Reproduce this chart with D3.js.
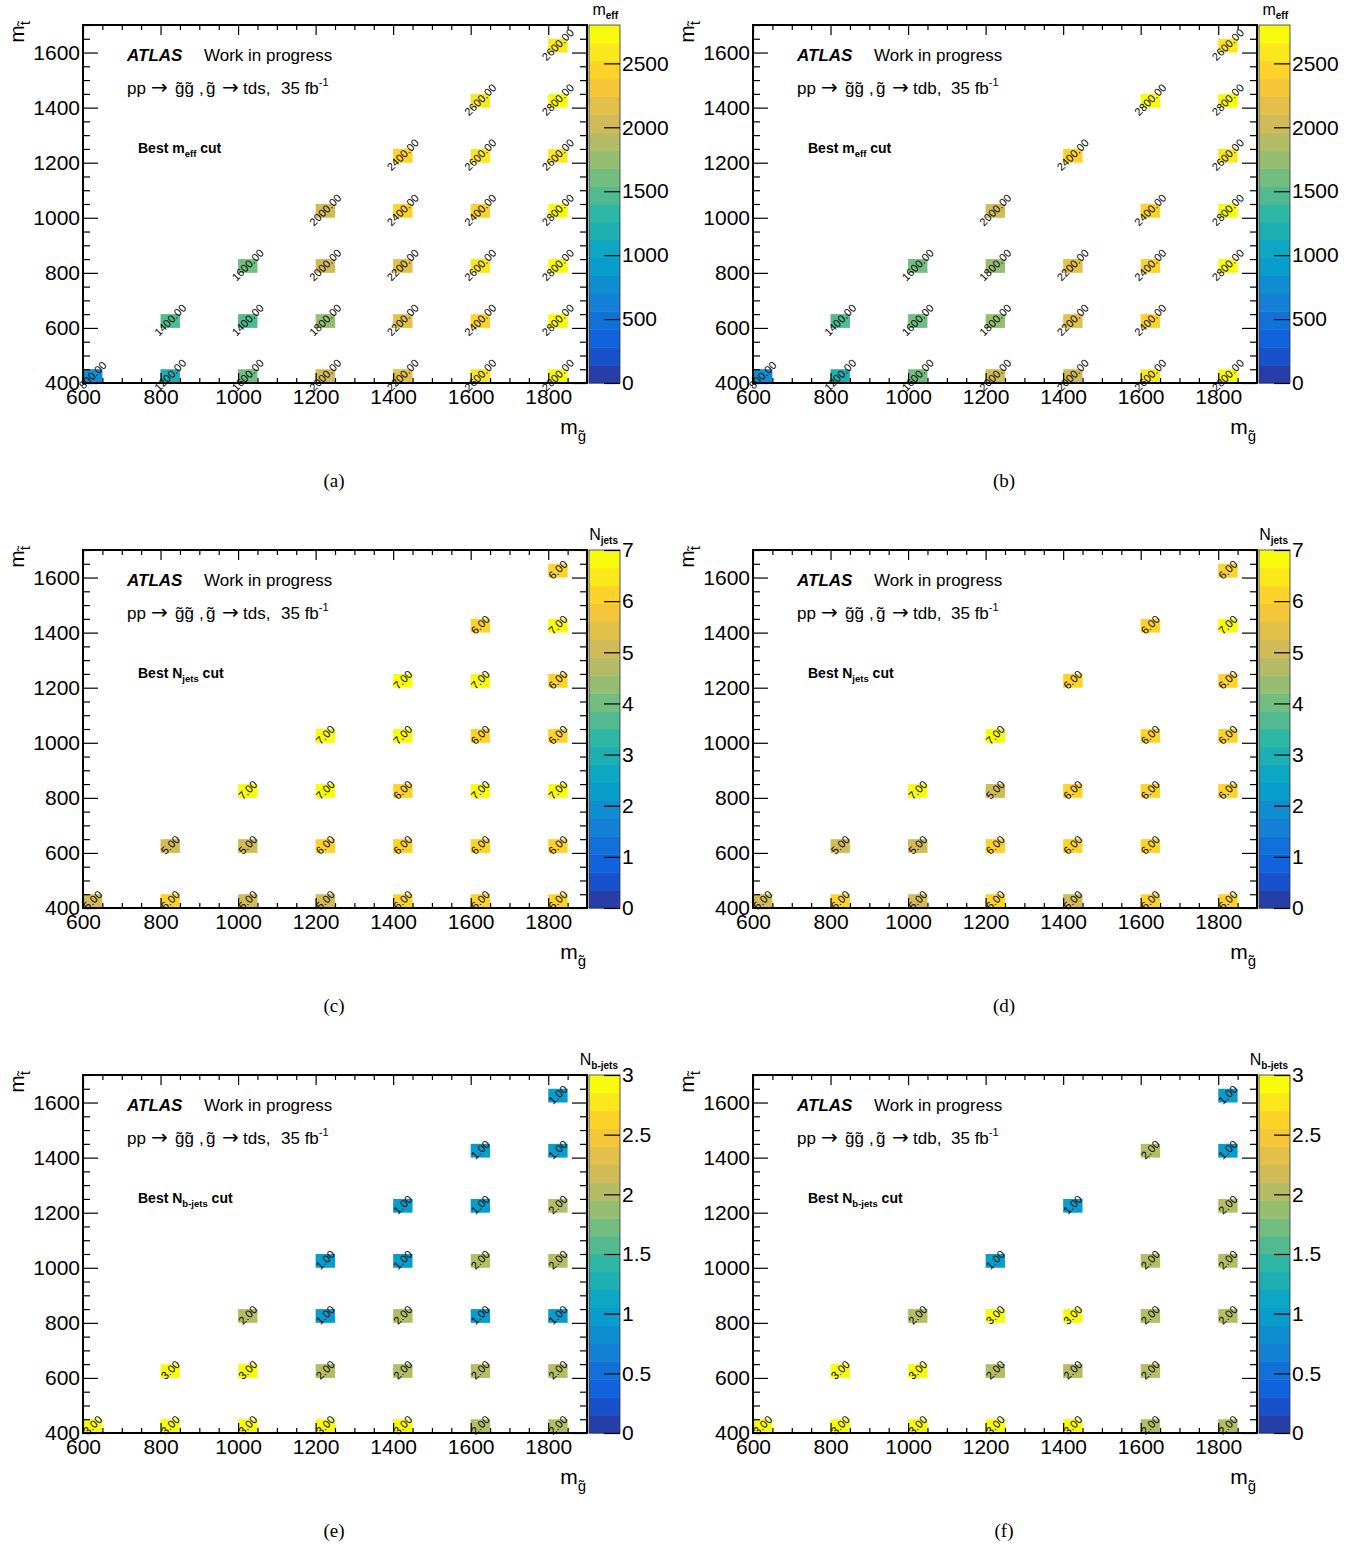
<!DOCTYPE html>
<html><head><meta charset="utf-8">
<script src="https://cdn.jsdelivr.net/npm/d3@7"></script>
<style>
body{margin:0;background:#fff}
svg{display:block}
text{font-family:"Liberation Sans",Arial,Helvetica,sans-serif;white-space:pre}
</style>
</head><body>
<svg id="c" width="1366" height="1546"></svg>
<script>
// ---------------- DATA ----------------
const gluinoTicks = [600, 800, 1000, 1200, 1400, 1600, 1800];
const stopTicks = [400, 600, 800, 1000, 1200, 1400, 1600];
const meffTicks = [0, 500, 1000, 1500, 2000, 2500];
const njetsTicks = [0, 1, 2, 3, 4, 5, 6, 7];
const nbjetsTicks = [0, 0.5, 1, 1.5, 2, 2.5, 3];

// [m_gluino, m_stop, value]
const meffTds = [
  [600,400,800],
  [800,400,1200],[800,600,1400],
  [1000,400,1600],[1000,600,1400],[1000,800,1600],
  [1200,400,2000],[1200,600,1800],[1200,800,2000],[1200,1000,2000],
  [1400,400,2200],[1400,600,2200],[1400,800,2200],[1400,1000,2400],[1400,1200,2400],
  [1600,400,2600],[1600,600,2400],[1600,800,2600],[1600,1000,2400],[1600,1200,2600],[1600,1400,2600],
  [1800,400,2800],[1800,600,2800],[1800,800,2800],[1800,1000,2800],[1800,1200,2600],[1800,1400,2800],[1800,1600,2600]
];
const meffTdb = [
  [600,400,800],
  [800,400,1200],[800,600,1400],
  [1000,400,1600],[1000,600,1600],[1000,800,1600],
  [1200,400,2000],[1200,600,1800],[1200,800,1800],[1200,1000,2000],
  [1400,400,2000],[1400,600,2200],[1400,800,2200],[1400,1200,2400],
  [1600,400,2600],[1600,600,2400],[1600,800,2400],[1600,1000,2400],[1600,1400,2800],
  [1800,400,2800],[1800,800,2800],[1800,1000,2800],[1800,1200,2600],[1800,1400,2800],[1800,1600,2600]
];
const njetsTds = [
  [600,400,5],
  [800,400,6],[800,600,5],
  [1000,400,5],[1000,600,5],[1000,800,7],
  [1200,400,5],[1200,600,6],[1200,800,7],[1200,1000,7],
  [1400,400,6],[1400,600,6],[1400,800,6],[1400,1000,7],[1400,1200,7],
  [1600,400,6],[1600,600,6],[1600,800,7],[1600,1000,6],[1600,1200,7],[1600,1400,6],
  [1800,400,6],[1800,600,6],[1800,800,7],[1800,1000,6],[1800,1200,6],[1800,1400,7],[1800,1600,6]
];
const njetsTdb = [
  [600,400,5],
  [800,400,6],[800,600,5],
  [1000,400,5],[1000,600,5],[1000,800,7],
  [1200,400,6],[1200,600,6],[1200,800,5],[1200,1000,7],
  [1400,400,5],[1400,600,6],[1400,800,6],[1400,1200,6],
  [1600,400,6],[1600,600,6],[1600,800,6],[1600,1000,6],[1600,1400,6],
  [1800,400,6],[1800,800,6],[1800,1000,6],[1800,1200,6],[1800,1400,7],[1800,1600,6]
];
const nbjetsTds = [
  [600,400,3],
  [800,400,3],[800,600,3],
  [1000,400,3],[1000,600,3],[1000,800,2],
  [1200,400,3],[1200,600,2],[1200,800,1],[1200,1000,1],
  [1400,400,3],[1400,600,2],[1400,800,2],[1400,1000,1],[1400,1200,1],
  [1600,400,2],[1600,600,2],[1600,800,1],[1600,1000,2],[1600,1200,1],[1600,1400,1],
  [1800,400,2],[1800,600,2],[1800,800,1],[1800,1000,2],[1800,1200,2],[1800,1400,1],[1800,1600,1]
];
const nbjetsTdb = [
  [600,400,3],
  [800,400,3],[800,600,3],
  [1000,400,3],[1000,600,3],[1000,800,2],
  [1200,400,3],[1200,600,2],[1200,800,3],[1200,1000,1],
  [1400,400,3],[1400,600,2],[1400,800,3],[1400,1200,1],
  [1600,400,2],[1600,600,2],[1600,800,2],[1600,1000,2],[1600,1400,2],
  [1800,400,2],[1800,800,2],[1800,1000,2],[1800,1200,2],[1800,1400,1],[1800,1600,1]
];
const binWidth = 50;

// ---------------- PANELS ----------------
const panels = [
  {cap:"(a)", col:0, row:0, cells:meffTds,   decay:"tds", zmax:2800, zTicks:meffTicks,   vMain:"m", vSub:"eff"},
  {cap:"(b)", col:1, row:0, cells:meffTdb,   decay:"tdb", zmax:2800, zTicks:meffTicks,   vMain:"m", vSub:"eff"},
  {cap:"(c)", col:0, row:1, cells:njetsTds,  decay:"tds", zmax:7,    zTicks:njetsTicks,  vMain:"N", vSub:"jets"},
  {cap:"(d)", col:1, row:1, cells:njetsTdb,  decay:"tdb", zmax:7,    zTicks:njetsTicks,  vMain:"N", vSub:"jets"},
  {cap:"(e)", col:0, row:2, cells:nbjetsTds, decay:"tds", zmax:3,    zTicks:nbjetsTicks, vMain:"N", vSub:"b-jets"},
  {cap:"(f)", col:1, row:2, cells:nbjetsTdb, decay:"tdb", zmax:3,    zTicks:nbjetsTicks, vMain:"N", vSub:"b-jets"}
];

// ---------------- STYLE / LAYOUT ----------------
const colOff = [0, 670], rowOff = [0, 525, 1050];
const F = {l:83, r:587, t:25, b:383};
const CB = {l:589, r:620};
const NCONT = 20;
const ARROW_FONT = "'DejaVu Sans',sans-serif";

// ROOT kBird palette
const birdStops = [0, .125, .25, .375, .5, .625, .75, .875, 1];
const birdR = [0.2082, 0.0592, 0.0780, 0.0232, 0.1802, 0.5301, 0.8186, 0.9956, 0.9764];
const birdG = [0.1664, 0.3599, 0.5041, 0.6419, 0.7178, 0.7492, 0.7328, 0.7862, 0.9832];
const birdB = [0.5293, 0.8684, 0.8385, 0.7914, 0.6425, 0.4662, 0.3499, 0.1968, 0.0539];
const bird = d3.scaleLinear().domain(birdStops)
  .range(birdStops.map((s,i)=>d3.rgb(birdR[i]*255, birdG[i]*255, birdB[i]*255)))
  .interpolate(d3.interpolateRgb);
function bandColor(band){
  const idx = Math.floor((band + 0.99) * 255 / NCONT);
  return bird(Math.min(254, idx) / 254);
}
function valueBand(v, zmax){
  return Math.max(0, Math.min(NCONT - 1, Math.floor(v / (zmax / NCONT) + 1e-9)));
}

const svg = d3.select("#c");
svg.append("rect").attr("width",1366).attr("height",1546).attr("fill","#fff");

const TIL = "\u0303";

panels.forEach(p => {
  const g = svg.append("g").attr("transform", `translate(${colOff[p.col]},${rowOff[p.row]})`);
  const xs = d3.scaleLinear().domain([600, 1900]).range([F.l, F.r]);
  const ys = d3.scaleLinear().domain([400, 1700]).range([F.b, F.t]);
  const cs = d3.scaleLinear().domain([0, p.zmax]).range([F.b, F.t]);

  // cells
  g.append("g").selectAll("rect").data(p.cells).join("rect")
    .attr("x", d => xs(d[0]))
    .attr("y", d => ys(d[1] + binWidth))
    .attr("width", d => xs(d[0] + binWidth) - xs(d[0]))
    .attr("height", d => ys(d[1]) - ys(d[1] + binWidth))
    .attr("fill", d => bandColor(valueBand(d[2], p.zmax)));

  // axes
  const minorX = d3.range(600, 1901, 50).filter(v => !gluinoTicks.includes(v));
  const minorY = d3.range(400, 1701, 50).filter(v => !stopTicks.includes(v));
  const fmt = d3.format("d");
  const styleAxis = sel => { sel.select(".domain").remove(); sel.selectAll("line").attr("stroke","#000").attr("stroke-width",1.2); };
  const styleLabels = s => s.selectAll("text").style("font-size","21px").attr("fill","#000").style("font-family",null);

  g.append("g").attr("transform", `translate(0,${F.b})`)
    .call(d3.axisBottom(xs).tickValues(gluinoTicks).tickSizeInner(-10).tickSizeOuter(0).tickPadding(6).tickFormat(fmt))
    .call(styleAxis).call(styleLabels);
  g.append("g").attr("transform", `translate(0,${F.b})`)
    .call(d3.axisBottom(xs).tickValues(minorX).tickSizeInner(-5).tickSizeOuter(0).tickFormat(""))
    .call(styleAxis);
  g.append("g").attr("transform", `translate(0,${F.t})`)
    .call(d3.axisTop(xs).tickValues(gluinoTicks).tickSizeInner(-10).tickSizeOuter(0).tickFormat(""))
    .call(styleAxis);
  g.append("g").attr("transform", `translate(0,${F.t})`)
    .call(d3.axisTop(xs).tickValues(minorX).tickSizeInner(-5).tickSizeOuter(0).tickFormat(""))
    .call(styleAxis);

  g.append("g").attr("transform", `translate(${F.l},0)`)
    .call(d3.axisLeft(ys).tickValues(stopTicks).tickSizeInner(-15).tickSizeOuter(0).tickPadding(3).tickFormat(fmt))
    .call(styleAxis).call(styleLabels);
  g.append("g").attr("transform", `translate(${F.l},0)`)
    .call(d3.axisLeft(ys).tickValues(minorY).tickSizeInner(-7).tickSizeOuter(0).tickFormat(""))
    .call(styleAxis);
  g.append("g").attr("transform", `translate(${F.r},0)`)
    .call(d3.axisRight(ys).tickValues(stopTicks).tickSizeInner(-15).tickSizeOuter(0).tickFormat(""))
    .call(styleAxis);
  g.append("g").attr("transform", `translate(${F.r},0)`)
    .call(d3.axisRight(ys).tickValues(minorY).tickSizeInner(-7).tickSizeOuter(0).tickFormat(""))
    .call(styleAxis);

  // frame
  g.append("rect").attr("x", F.l).attr("y", F.t).attr("width", F.r - F.l).attr("height", F.b - F.t)
    .attr("fill","none").attr("stroke","#000").attr("stroke-width",2);

  // cell text labels
  g.append("g").selectAll("text").data(p.cells).join("text")
    .attr("transform", d => `translate(${xs(d[0] + binWidth/2)},${ys(d[1] + binWidth/2) - 1}) rotate(-45)`)
    .attr("text-anchor","middle")
    .attr("dy","0.35em")
    .style("font-size","11px")
    .attr("fill","#000")
    .text(d => d3.format(".2f")(d[2]));

  // colour bar
  const bands = d3.range(NCONT);
  g.append("g").selectAll("rect").data(bands).join("rect")
    .attr("x", CB.l).attr("width", CB.r - CB.l)
    .attr("y", i => cs(p.zmax * (i + 1) / NCONT))
    .attr("height", i => cs(p.zmax * i / NCONT) - cs(p.zmax * (i + 1) / NCONT) + 0.5)
    .attr("fill", i => bandColor(i));
  g.append("rect").attr("x", CB.l).attr("y", F.t).attr("width", CB.r - CB.l).attr("height", F.b - F.t)
    .attr("fill","none").attr("stroke","#333").attr("stroke-width",0.8);
  g.append("g").attr("transform", `translate(${CB.r},0)`)
    .call(d3.axisRight(cs).tickValues(p.zTicks).tickSizeInner(-16).tickSizeOuter(0).tickPadding(2).tickFormat(d3.format("~g")))
    .call(styleAxis).call(styleLabels);

  // colour bar title
  const zt = g.append("text").attr("x", CB.r - 2).attr("y", F.t - 10).attr("text-anchor","end").style("font-size","16px");
  zt.append("tspan").text(p.vMain);
  zt.append("tspan").attr("dy", 4).style("font-size","10px").style("font-weight","bold").text(p.vSub);

  // ATLAS label
  const t1 = g.append("text").attr("x", 127).attr("y", 61).style("font-size","17px");
  t1.append("tspan").style("font-weight","bold").style("font-style","italic").text("ATLAS");
  t1.append("tspan").attr("x", 204).text("Work in progress");

  // process line
  const t2 = g.append("text").attr("x", 127).attr("y", 94).style("font-size","17px");
  t2.append("tspan").text("pp");
  t2.append("tspan").attr("x", 151).style("font-family", ARROW_FONT).style("font-size","20px").text("\u2192");
  t2.append("tspan").attr("x", 175).text("g" + TIL + "g" + TIL);
  t2.append("tspan").attr("x", 199).text(",");
  t2.append("tspan").attr("x", 206).text("g" + TIL);
  t2.append("tspan").attr("x", 222).style("font-family", ARROW_FONT).style("font-size","20px").text("\u2192");
  t2.append("tspan").attr("x", 243).text(p.decay + ",");
  t2.append("tspan").attr("x", 281).text("35 fb");
  t2.append("tspan").attr("dy", -8).style("font-size","11px").text("-1");

  // Best cut label
  const t3 = g.append("text").attr("x", 138).attr("y", 153).style("font-size","14px").style("font-weight","bold");
  t3.append("tspan").text("Best " + p.vMain);
  t3.append("tspan").attr("dy", 4).style("font-size","9.5px").text(p.vSub);
  t3.append("tspan").attr("dy", -4).text(" cut");

  // x axis title
  const xt = g.append("text").attr("x", 586).attr("y", 434).attr("text-anchor","end").style("font-size","21px");
  xt.append("tspan").text("m");
  xt.append("tspan").attr("dy", 7).style("font-size","15px").text("g" + TIL);

  // y axis title
  const yg = g.append("g").attr("transform", "translate(24,21) rotate(-90)");
  const ytt = yg.append("text").attr("x", 0).attr("y", 0).attr("text-anchor","end").style("font-size","21px");
  ytt.append("tspan").text("m");
  ytt.append("tspan").attr("dy", 6).style("font-size","15px").text("t" + TIL);

  // caption
  g.append("text").attr("x", 334).attr("y", 487).attr("text-anchor","middle")
    .style("font-family","'Liberation Serif','Times New Roman',serif").style("font-size","19px").text(p.cap);
});
</script>
</body></html>
